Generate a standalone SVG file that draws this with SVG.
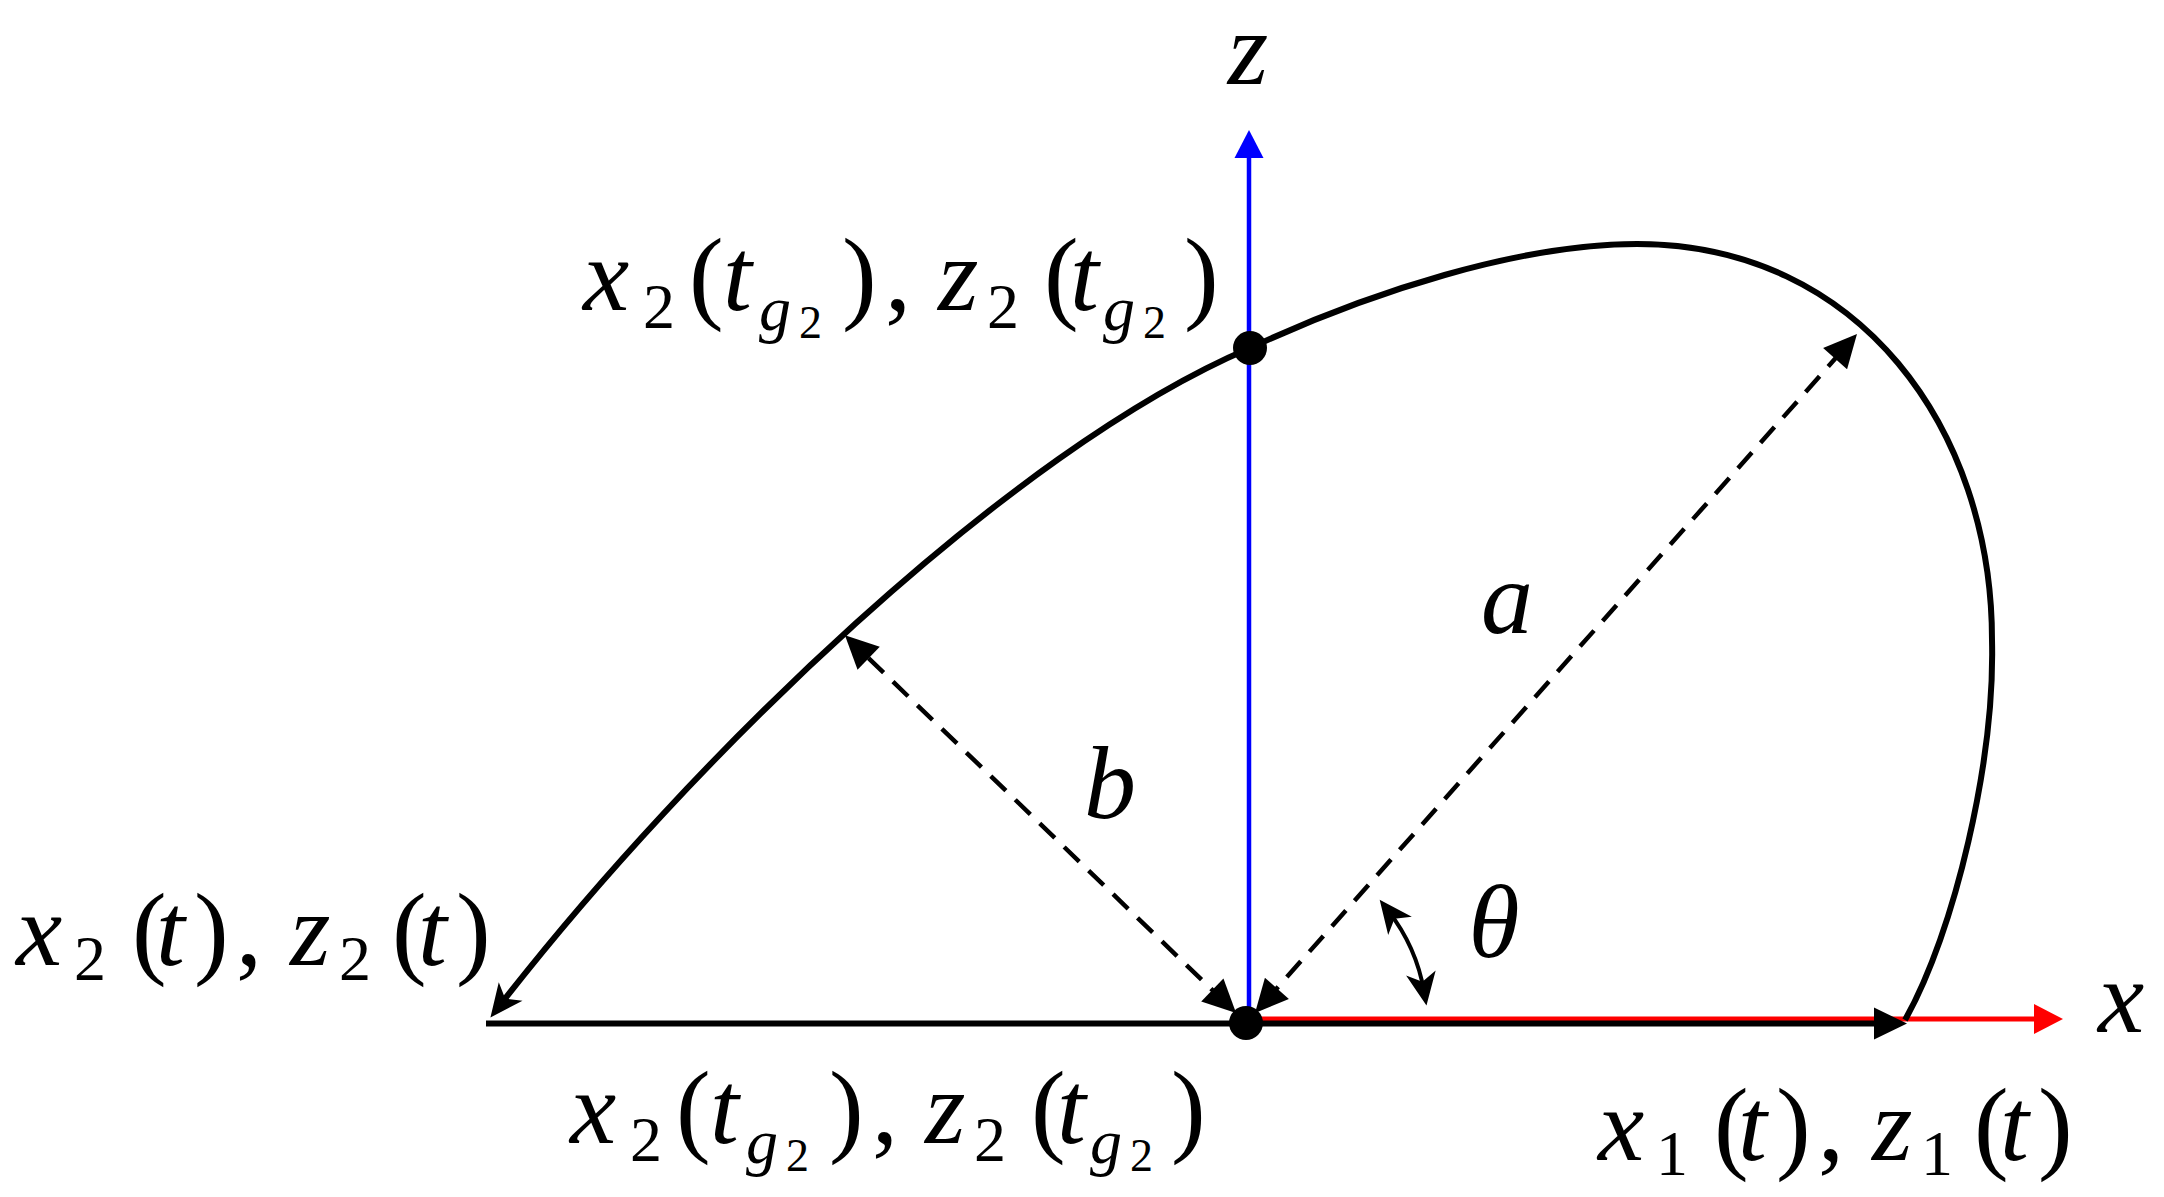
<svg xmlns="http://www.w3.org/2000/svg" width="2164" height="1197" viewBox="0 0 2164 1197">
<style>
.lbl{font-family:"Liberation Serif","DejaVu Serif","Times New Roman",serif;fill:#000}
.it{font-style:italic}
.m{font-size:104px}
.s{font-size:64px}
.ss{font-size:46px}
.crv{fill:none;stroke:#000;stroke-width:6}
.dash{fill:none;stroke:#000;stroke-width:4.5;stroke-dasharray:21 13}
</style>
<defs>
<marker id="tri" markerUnits="userSpaceOnUse" orient="auto-start-reverse" overflow="visible" refX="0" refY="0" markerWidth="1" markerHeight="1"><path d="M14,0 L-19,-16 L-19,16 Z" fill="#000"/></marker>
<marker id="stealth" markerUnits="userSpaceOnUse" orient="auto-start-reverse" overflow="visible" refX="0" refY="0" markerWidth="1" markerHeight="1"><path d="M14,0 L-19,-15 L-10,0 L-19,15 Z" fill="#000"/></marker>
<marker id="blueTri" markerUnits="userSpaceOnUse" orient="auto" overflow="visible" refX="0" refY="0" markerWidth="1" markerHeight="1"><path d="M12,0 L-16,-14.5 L-16,14.5 Z" fill="#0000ff"/></marker>
<marker id="redTri" markerUnits="userSpaceOnUse" orient="auto" overflow="visible" refX="0" refY="0" markerWidth="1" markerHeight="1"><path d="M12,0 L-17,-15 L-17,15 Z" fill="#ff0000"/></marker>
</defs>
<rect width="2164" height="1197" fill="#fff"/>

<g id="connectors">
  <path id="z-axis" d="M1249,1023 L1249,142" stroke="#0000ff" stroke-width="4.5" fill="none" marker-end="url(#blueTri)"/>
  <path id="x-axis" d="M1246,1019 L2051,1019" stroke="#ff0000" stroke-width="5" fill="none" marker-end="url(#redTri)"/>
  <path id="base-line" d="M486,1023.5 L1893,1023.5" stroke="#000" stroke-width="6" fill="none" marker-end="url(#tri)"/>
  <path id="curve" class="crv" d="M1905,1020 C1955,931 1995,760 1992,640 C1992,430 1860,244 1637,244 C1520,244 1370,292 1250,348 C1010,450 690,760 499,1006.5" marker-end="url(#stealth)"/>
  <path id="dim-a" class="dash" d="M1264.3,1002.5 L1847.7,344.5" marker-start="url(#tri)" marker-end="url(#tri)"/>
  <path id="dim-b" class="dash" d="M1226,1003.3 L855,645" marker-start="url(#tri)" marker-end="url(#tri)"/>
  <path id="theta-arc" d="M1424.1,991.7 A181,181 0 0 0 1388.3,910.9" fill="none" stroke="#000" stroke-width="4" marker-start="url(#stealth)" marker-end="url(#stealth)"/>
</g>

<g id="point-origin"><circle cx="1246" cy="1023" r="17" fill="#000"/></g>
<g id="point-top"><circle cx="1250" cy="348" r="17" fill="#000"/></g>

<g id="label-z"><text class="lbl it m" x="1248" y="84" text-anchor="middle">z</text></g>
<g id="label-x"><text class="lbl it m" x="2098" y="1032">x</text></g>
<g id="label-a"><text class="lbl it m" x="1507" y="633" text-anchor="middle">a</text></g>
<g id="label-b"><text class="lbl it m" x="1110" y="818" text-anchor="middle">b</text></g>
<g id="label-theta"><text class="lbl it m" x="1494" y="957" text-anchor="middle">θ</text></g>

<g id="label-top">
<text class="lbl m"><tspan class="it" x="583" y="310">x</tspan><tspan class="s" x="643" y="328">2</tspan><tspan x="689" y="310">(</tspan><tspan class="it" x="723" y="310">t</tspan><tspan class="it s" x="759" y="330">g</tspan><tspan class="ss" x="799" y="338">2</tspan><tspan x="842" y="310">)</tspan><tspan x="885" y="310">,</tspan><tspan class="it" x="938" y="310">z</tspan><tspan class="s" x="987" y="328">2</tspan><tspan x="1044" y="310">(</tspan><tspan class="it" x="1070" y="310">t</tspan><tspan class="it s" x="1103" y="330">g</tspan><tspan class="ss" x="1143" y="338">2</tspan><tspan x="1184" y="310">)</tspan></text>
</g>

<g id="label-bottom-mid" transform="translate(-13,833)">
<text class="lbl m"><tspan class="it" x="583" y="310">x</tspan><tspan class="s" x="643" y="328">2</tspan><tspan x="689" y="310">(</tspan><tspan class="it" x="723" y="310">t</tspan><tspan class="it s" x="759" y="330">g</tspan><tspan class="ss" x="799" y="338">2</tspan><tspan x="842" y="310">)</tspan><tspan x="885" y="310">,</tspan><tspan class="it" x="938" y="310">z</tspan><tspan class="s" x="987" y="328">2</tspan><tspan x="1044" y="310">(</tspan><tspan class="it" x="1070" y="310">t</tspan><tspan class="it s" x="1103" y="330">g</tspan><tspan class="ss" x="1143" y="338">2</tspan><tspan x="1184" y="310">)</tspan></text>
</g>

<g id="label-left">
<text class="lbl m"><tspan class="it" x="16" y="965">x</tspan><tspan class="s" x="74" y="980">2</tspan><tspan x="132" y="965">(</tspan><tspan class="it" x="156" y="965">t</tspan><tspan x="194" y="965">)</tspan><tspan x="236" y="965">,</tspan><tspan class="it" x="290" y="965">z</tspan><tspan class="s" x="339" y="980">2</tspan><tspan x="392" y="965">(</tspan><tspan class="it" x="418" y="965">t</tspan><tspan x="456" y="965">)</tspan></text>
</g>

<g id="label-right" transform="translate(1582,195)">
<text class="lbl m"><tspan class="it" x="16" y="965">x</tspan><tspan class="s" x="74" y="980">1</tspan><tspan x="132" y="965">(</tspan><tspan class="it" x="156" y="965">t</tspan><tspan x="194" y="965">)</tspan><tspan x="236" y="965">,</tspan><tspan class="it" x="290" y="965">z</tspan><tspan class="s" x="339" y="980">1</tspan><tspan x="392" y="965">(</tspan><tspan class="it" x="418" y="965">t</tspan><tspan x="456" y="965">)</tspan></text>
</g>
</svg>
